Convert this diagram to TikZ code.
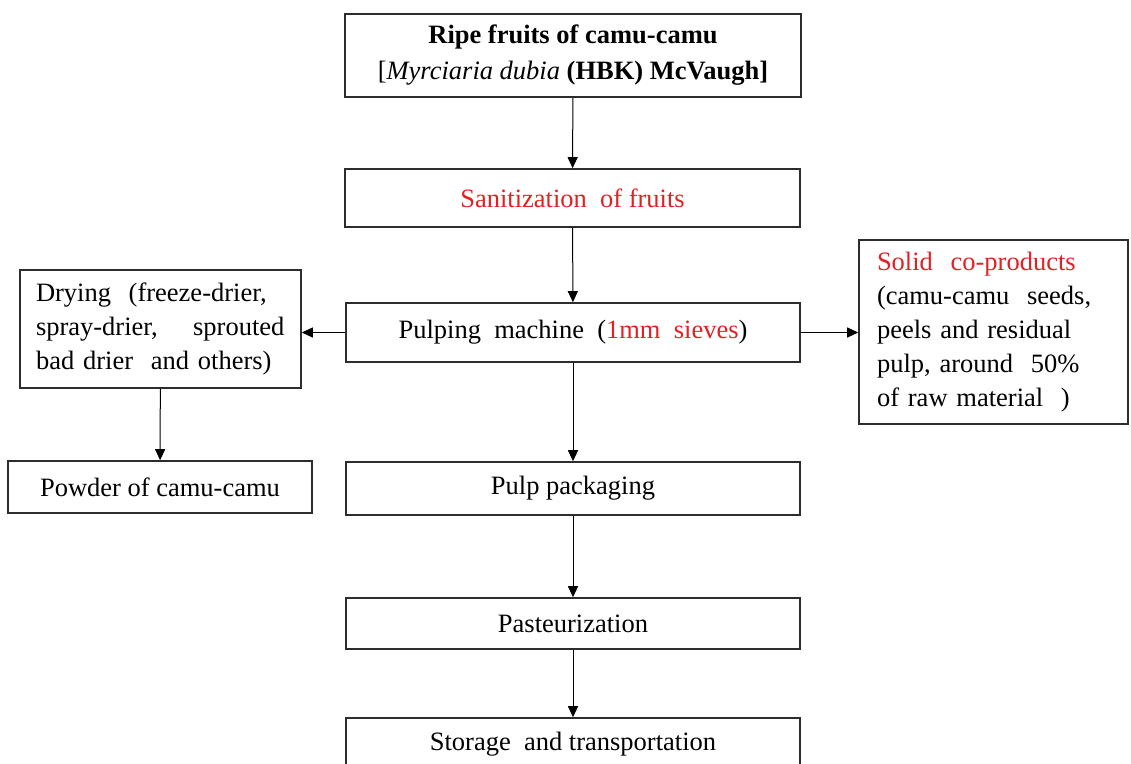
\documentclass[tikz,border=0pt]{standalone}
\usepackage{fontspec}
\setmainfont{Liberation Serif}
\usetikzlibrary{arrows.meta}
\definecolor{stepred}{RGB}{228,32,36}
\definecolor{edgegray}{RGB}{45,45,45}
\begin{document}
\begin{tikzpicture}[x=1pt,y=-1pt,
  stepbox/.style={draw=edgegray, line width=1.6pt, fill=white, inner sep=0pt,
    font=\fontsize{26.5pt}{34pt}\selectfont, align=center},
  flow/.style={draw=black, line width=1pt, -{Triangle[length=11pt,width=10pt]}}]
\useasboundingbox (0,0) rectangle (1131,763);
\clip (0,0) rectangle (1131,763);
\fill[white] (0,0) rectangle (1131,763);

% main processing line
\node[stepbox, minimum width=456pt, minimum height=83pt,
  font=\fontsize{26.5pt}{36pt}\selectfont] (ripe) at (573,55.5)
  {\textbf{Ripe fruits of camu-camu}\\{[}\textit{Myrciaria dubia} \textbf{(HBK) McVaugh]}};
\node[stepbox, minimum width=455pt, minimum height=58pt] (sanit) at (572.5,198)
  {\textcolor{stepred}{Sanitization\ \ of fruits}};
\node[stepbox, minimum width=454pt, minimum height=59pt] (pulp) at (573,332.5)
  {Pulping\ \ machine\ \ (\textcolor{stepred}{1mm\ \ sieves})};
\node[stepbox, minimum width=454pt, minimum height=53pt] (pack) at (573,488.5)
  {Pulp packaging};
\node[stepbox, minimum width=454pt, minimum height=51pt] (past) at (573,623.5)
  {Pasteurization};
\node[stepbox, minimum width=454pt, minimum height=52pt] (store) at (573,744)
  {Storage\ \ and transportation};

% side branches
\node[stepbox, minimum width=281pt, minimum height=118pt, text width=249pt,
  align=left] (dry) at (160.5,329)
  {Drying\ \ (freeze-drier,\\spray-drier,\ \ \ \ sprouted\\bad drier\ \ and others)};
\node[stepbox, minimum width=304pt, minimum height=52pt] (powder) at (160,487)
  {Powder of camu-camu};
\node[stepbox, minimum width=269pt, minimum height=184pt, text width=233pt,
  align=left] (solid) at (993.5,332)
  {\textcolor{stepred}{Solid\ \ co-products}\\(camu-camu\ \ seeds,\\peels and residual\\pulp, around\ \ 50\%\\of raw material\ \ )};

% connectors
\draw[flow] (ripe) -- (sanit);
\draw[flow] (sanit) -- (pulp);
\draw[flow] (pulp) -- (pack);
\draw[flow] (pack) -- (past);
\draw[flow] (past) -- (store);
\draw[flow] (pulp.west) -- (pulp.west -| dry.east);
\draw[flow] (pulp.east) -- (pulp.east -| solid.west);
\draw[flow] (dry) -- (powder);
\end{tikzpicture}
\end{document}
